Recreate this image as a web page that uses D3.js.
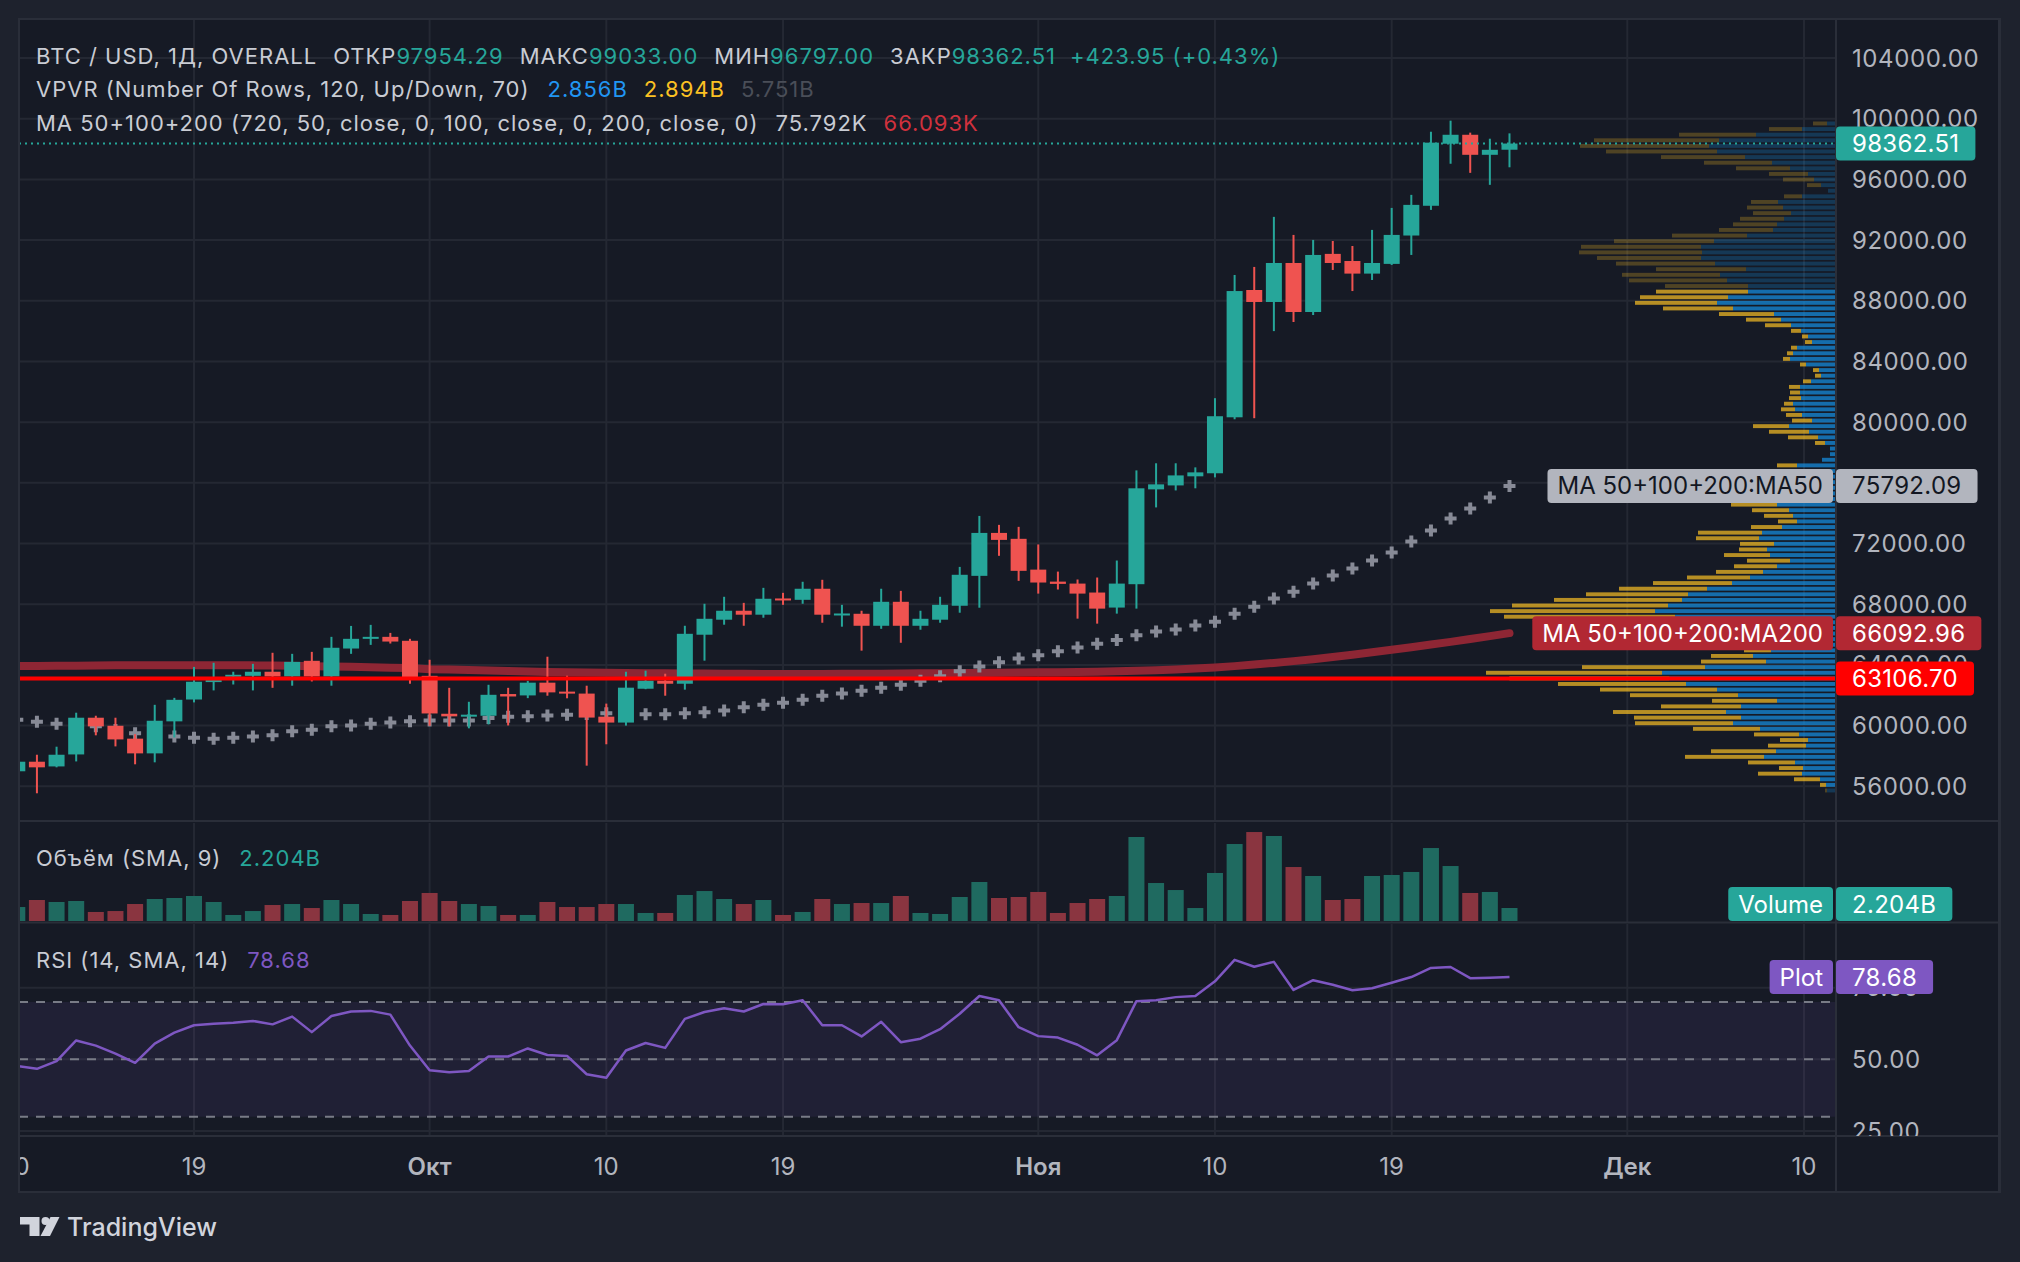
<!DOCTYPE html>
<html>
<head>
<meta charset="utf-8">
<script src="https://cdn.jsdelivr.net/npm/d3@7"></script>
<style>
  html, body { margin: 0; padding: 0; background: #1e222d; }
  svg { display: block; font-family: Inter, "Noto Sans", sans-serif; }
</style>
</head>
<body>
<svg id="chart" width="2020" height="1262"></svg>
<script>
// ---- data: BTC / USD daily, 10 Sep – 25 Nov 2024 ----
var firstDay = [2024, 8, 10]; // UTC y, m (0-based), d of the first candle

var open  = [56990,57620,57310,58100,60520,59990,59140,58170,60280,61720,62910,63240,63280,63550,63240,64270,63240,65080,65740,65850,65590,
             63280,60780,60610,60650,62080,61990,62830,62240,62110,60590,60200,62430,62960,62760,65990,66980,67570,67310,68380,68290,69020,67310,67370,66580,68160,66580,66980,67900,69870,72700,72310,
             70280,69490,69360,68770,67780,69320,75570,75830,76430,76630,80320,88710,87920,90490,87260,91090,90620,89790,90430,92300,94260,98350,98940,97620,97954.29];
var high  = [57900,58080,58610,60850,60650,60520,59440,61370,61830,63870,64140,63550,64070,64800,64730,64860,65850,66570,66640,66110,65720,
             64340,62490,61570,62690,62490,62950,64540,63290,62630,61450,63550,63620,63420,66580,68030,68490,68090,69080,68750,69480,69610,67960,67570,69020,68880,67570,68490,70460,73820,73230,73100,
             71940,70150,69630,69760,70880,76820,77290,77290,77020,81580,89700,90230,93530,92340,92010,91940,91610,92670,94120,94980,99140,99870,99080,98680,99033.00];
var low   = [56800,55540,57250,57640,59360,58630,57450,57580,59220,61530,62320,62710,62320,62490,62630,62910,62630,64730,65320,65410,62760,
             59990,59950,59820,60080,60010,61810,61970,61800,57360,58770,60000,62400,61970,62370,64280,66650,66580,67110,67960,68030,66780,66520,64940,66380,65460,66320,66780,67440,67770,71190,69540,
             68700,68970,67050,66720,67380,67710,74380,75500,75640,76360,80190,80260,86000,86600,87060,90030,88640,89370,90360,91020,93990,97030,96430,95640,96797.00];
var close = [57620,57250,58080,60520,59950,59090,58170,60320,61700,62890,63000,63350,63550,63240,64200,63240,65130,65720,65850,65540,63170,
             60800,60610,60720,62030,61920,62830,62190,62150,60530,60200,62500,62960,62760,66050,67040,67570,67310,68360,68290,69020,67310,67390,66580,68160,66580,67040,67960,69940,72700,72240,70200,
             69430,69340,68700,67710,69360,75640,75900,76490,76690,80390,88640,87920,90490,87260,91020,90490,89790,90490,92340,94320,98420,98940,97620,97950,98362.51];

// volume, billions
var volume = [2.37,3.56,3.22,3.39,1.53,1.69,2.88,3.73,3.90,4.24,3.22,1.02,1.69,2.71,2.88,2.20,3.56,2.88,1.19,1.02,3.39,
              4.75,3.39,2.88,2.54,1.02,1.02,3.22,2.37,2.37,2.88,2.88,1.36,1.36,4.41,5.08,3.73,2.88,3.56,1.02,1.53,3.73,2.88,3.05,3.05,4.24,1.36,1.19,4.07,6.61,3.90,4.07,
              4.92,1.36,3.05,3.73,4.24,14.24,6.44,5.25,2.20,8.14,13.05,15.08,14.41,9.15,7.63,3.56,3.73,7.63,7.80,8.31,12.37,9.32,4.75,4.92,2.204];

// MA 50 and MA 200 of close
var ma50  = [60390,60260,60120,60040,59950,59710,59490,59380,59290,59200,59140,59200,59290,59360,59620,59730,59950,60010,60120,60210,60280,
             60340,60340,60340,60500,60590,60610,60660,60720,60770,60810,60780,60750,60750,60810,60880,60990,61210,61380,61510,61710,61970,62110,62300,62500,62700,62960,63250,63580,63900,64170,64430,
             64630,64900,65150,65400,65650,65950,66210,66330,66590,66850,67380,67840,68370,68830,69360,69890,70350,70880,71410,72140,72860,73650,74310,75040,75792.09];
var ma200 = [63920,63930,63940,63950,63960,63970,63975,63980,63985,63985,63985,63980,63970,63960,63940,63920,63900,63875,63850,63820,63790,
             63720,63690,63660,63630,63600,63570,63540,63520,63500,63480,63465,63455,63445,63440,63430,63420,63410,63405,63400,63400,63405,63410,63415,63425,63435,63445,63455,63465,63475,63490,63500,
             63510,63520,63535,63555,63580,63610,63650,63700,63760,63830,63920,64020,64130,64250,64380,64520,64670,64830,65000,65170,65340,65520,65710,65900,66092.96];

// RSI 14
var rsi = [47.7,46.7,49.4,56.6,54.8,52.0,48.8,55.5,59.3,61.9,62.4,62.8,63.4,62.2,64.9,59.5,65.1,66.7,66.9,65.6,54.8,
           46.2,45.5,45.9,51.0,51.0,53.8,51.5,51.2,44.8,43.6,53.1,55.7,54.0,64.1,66.5,67.8,66.7,69.3,69.2,70.6,61.9,61.9,58.0,63.1,56.0,57.2,60.5,65.9,72.1,70.6,61.2,
           58.1,57.6,55.1,51.4,56.7,70.3,70.6,71.7,72.1,77.2,84.7,82.3,84.0,74.2,77.6,76.0,74.1,74.8,76.7,78.7,81.9,82.2,78.3,78.5,78.68];

// volume profile (visible range), 120 rows from the top price row down
var vpDown = [42,99,231,375,387,333,252,204,162,117,93,42,0,54,81,108,114,132,132,162,225,300,360,369,312,297,270,294,294,249,276,264,
              246,210,165,105,78,30,18,21,18,18,21,18,18,18,24,33,30,36,27,42,48,60,108,120,90,30,0,0,
              0,60,165,150,120,100,130,140,138,111,87,57,93,192,189,102,84,138,129,129,141,189,237,264,306,384,468,495,513,
              420,380,330,250,150,81,126,195,369,528,480,384,351,324,195,240,339,321,294,201,135,84,114,195,237,141,72,132,78,18,6];
var vpUp   = [27,102,240,351,381,357,273,192,138,84,66,45,24,102,174,159,135,156,177,189,267,366,405,402,405,363,270,348,327,264,264,324,
              357,309,186,165,135,105,84,72,117,129,138,90,51,45,75,108,108,105,129,123,102,72,141,81,54,33,18,18,
              42,117,225,200,190,170,180,180,177,141,129,117,162,222,231,186,207,198,138,177,219,258,312,387,444,462,504,543,483,
              470,440,400,330,260,195,249,210,393,522,500,450,357,294,177,285,330,285,309,228,111,84,90,180,216,123,99,102,48,30,27];
var vpRows = 120, vpValueArea = 0.70;

// axes
var priceTicks = d3.range(56000, 104001, 4000);
var rsiTicks = [25, 50, 75];
var rsiBands = [70, 50, 30];
var timeTicks = [[2024,8,10,"10"],[2024,8,19,"19"],[2024,9,1,"Окт"],[2024,9,10,"10"],[2024,9,19,"19"],
                 [2024,10,1,"Ноя"],[2024,10,10,"10"],[2024,10,19,"19"],[2024,11,1,"Дек"],[2024,11,10,"10"]];
var monthLabels = ["Окт", "Ноя", "Дек"];

// legends
var legendMain = [["BTC / USD, 1Д, OVERALL","lab",0],["ОТКР","lab",16],["97954.29","up",0],["МАКС","lab",16],["99033.00","up",0],
                  ["МИН","lab",16],["96797.00","up",0],["ЗАКР","lab",16],["98362.51","up",0],["+423.95 (+0.43%)","up",14]];
var legendVp = [["VPVR (Number Of Rows, 120, Up/Down, 70)","lab",0],["2.856B","vpu",18],["2.894B","vpd",16],["5.751B","dim",16]];
var legendMa = [["MA 50+100+200 (720, 50, close, 0, 100, close, 0, 200, close, 0)","lab",0],["75.792K","lab",17],["66.093K","ma200",16]];
var legendVol = [["Объём (SMA, 9)","lab",0],["2.204B","up",18]];
var legendRsi = [["RSI (14, SMA, 14)","lab",0],["78.68","rsi",18]];
var hLinePrice = 63106.70;

// ---- colours ----
var C = {
  bg: "#161a25", outer: "#1e222d", grid: "#242833", border: "#2a2e39",
  up: "#26a69a", down: "#ef5350", volUp: "#1f6a60", volDown: "#8a3540",
  lab: "#c9ccd4", axis: "#b2b5be", vpu: "#2196f3", vpd: "#fbc123", dim: "#4a4e58",
  ma200: "#d0313d", rsi: "#7e57c2", ma50: "#878a96", ma200line: "#8e2634"
};

// ---- layout ----
var L = 19, T = 19, R = 2000, B = 1192, PR = 1836;
var mainB = 821, volT = 823, volB = 921, rsiT = 924, rsiB = 1136;

var svg = d3.select("#chart");
svg.append("rect").attr("width", 2020).attr("height", 1262).attr("fill", C.outer);
svg.append("rect").attr("x", L).attr("y", T).attr("width", R - L).attr("height", B - T).attr("fill", C.bg);

var dates = close.map(function(d, i) { return new Date(Date.UTC(firstDay[0], firstDay[1], firstDay[2] + i)); });
var x = d3.scaleUtc()
  .domain([new Date(Date.UTC(2024, 8, 19)), new Date(Date.UTC(2024, 11, 10))])
  .range([194, 1804]);
var y = d3.scaleLinear().domain([56000, 104000]).range([786.3, 58]);
var yv = d3.scaleLinear().domain([0, 16.95]).range([volB, 821]);
var yr = d3.scaleLinear().domain([30, 70]).range([1116.7, 1002]);
var step = x(dates[1]) - x(dates[0]);
var bw = Math.round(step * 0.8);

var defs = svg.append("defs");
function clip(id, x0, y0, x1, y1) {
  defs.append("clipPath").attr("id", id).append("rect")
    .attr("x", x0).attr("y", y0).attr("width", x1 - x0).attr("height", y1 - y0);
  return "url(#" + id + ")";
}
var gMain = svg.append("g").attr("clip-path", clip("cm", L, T, PR, mainB));
var gVol = svg.append("g").attr("clip-path", clip("cv", L, volT, PR, volB + 1));
var gRsi = svg.append("g").attr("clip-path", clip("cr", L, rsiT, PR, rsiB));
var gTime = svg.append("g").attr("clip-path", clip("ct", L + 1, rsiB, PR, B));

// grid
var tickDates = timeTicks.map(function(t) { return new Date(Date.UTC(t[0], t[1], t[2])); });
[gMain, gVol, gRsi].forEach(function(g) {
  g.selectAll("line.vg").data(tickDates).enter().append("line")
    .attr("x1", function(d) { return x(d); }).attr("x2", function(d) { return x(d); })
    .attr("y1", T).attr("y2", rsiB).attr("stroke", C.grid).attr("stroke-width", 2);
});
gMain.selectAll("line.hg").data(priceTicks).enter().append("line")
  .attr("x1", L).attr("x2", PR).attr("y1", function(d) { return y(d); }).attr("y2", function(d) { return y(d); })
  .attr("stroke", C.grid).attr("stroke-width", 2);

// volume profile
var vpHi = d3.max(high), vpLo = d3.min(low), rowP = (vpHi - vpLo) / vpRows;
var vpTot = vpUp.map(function(u, i) { return u + vpDown[i]; });
var poc = vpTot.indexOf(d3.max(vpTot));
var vaLo = poc, vaHi = poc, target = d3.sum(vpTot) * vpValueArea, acc = vpTot[poc];
while (acc < target && (vaLo > 0 || vaHi < vpRows - 1)) {
  var above = (vaLo > 0 ? vpTot[vaLo - 1] : 0) + (vaLo > 1 ? vpTot[vaLo - 2] : 0);
  var below = (vaHi < vpRows - 1 ? vpTot[vaHi + 1] : 0) + (vaHi < vpRows - 2 ? vpTot[vaHi + 2] : 0);
  if (above >= below && vaLo > 0) vaLo = Math.max(0, vaLo - 2);
  else vaHi = Math.min(vpRows - 1, vaHi + 2);
  acc = d3.sum(vpTot.slice(vaLo, vaHi + 1));
}
var vw = d3.scaleLinear().domain([0, d3.max(vpTot)]).range([0, 350]);
var rows = vpTot.map(function(t, i) {
  var top = vpHi - i * rowP;
  return { i: i, up: vpUp[i], down: vpDown[i], y0: y(top), y1: y(top - rowP), va: i >= vaLo && i <= vaHi };
});
var gVp = gMain.append("g");
rows.forEach(function(r) {
  var h = (r.y1 - r.y0) * 0.7, yy = (r.y0 + r.y1) / 2 - h / 2;
  var a = r.va ? 0.7 : 0.25;
  gVp.append("rect").attr("x", PR - vw(r.up)).attr("y", yy).attr("width", vw(r.up)).attr("height", h)
    .attr("fill", "#1592e6").attr("fill-opacity", a);
  gVp.append("rect").attr("x", PR - vw(r.up) - vw(r.down)).attr("y", yy).attr("width", vw(r.down)).attr("height", h)
    .attr("fill", "#fbc123").attr("fill-opacity", a);
});

// MA 200
gMain.append("path").datum(ma200)
  .attr("d", d3.line().x(function(d, i) { return x(dates[i]); }).y(function(d) { return y(d); }))
  .attr("fill", "none").attr("stroke", C.ma200line).attr("stroke-width", 8).attr("stroke-linecap", "round");

// MA 50 crosses
gMain.append("path")
  .attr("d", ma50.map(function(d, i) {
    var cx = x(dates[i]), cy = y(d);
    return "M" + (cx - 6) + "," + cy + "H" + (cx + 6) + "M" + cx + "," + (cy - 6) + "V" + (cy + 6);
  }).join(""))
  .attr("stroke", C.ma50).attr("stroke-width", 4).attr("fill", "none");

// candles
var cd = close.map(function(c, i) { return { d: dates[i], o: open[i], h: high[i], l: low[i], c: c }; });
var cg = gMain.selectAll("g.c").data(cd).enter().append("g")
  .attr("fill", function(d) { return d.c >= d.o ? C.up : C.down; });
cg.append("rect").attr("x", function(d) { return x(d.d) - 1; }).attr("width", 2)
  .attr("y", function(d) { return y(d.h); }).attr("height", function(d) { return y(d.l) - y(d.h); });
cg.append("rect").attr("x", function(d) { return x(d.d) - bw / 2; }).attr("width", bw)
  .attr("y", function(d) { return y(Math.max(d.o, d.c)); })
  .attr("height", function(d) { return Math.max(2, Math.abs(y(d.o) - y(d.c))); });

// horizontal line and last price line
gMain.append("line").attr("x1", L).attr("x2", PR).attr("y1", y(hLinePrice)).attr("y2", y(hLinePrice))
  .attr("stroke", "#ff0000").attr("stroke-width", 4);
var lastC = close[close.length - 1];
gMain.append("line").attr("x1", L).attr("x2", PR).attr("y1", y(lastC)).attr("y2", y(lastC))
  .attr("stroke", C.up).attr("stroke-width", 2).attr("stroke-dasharray", "2,4");

// volume bars
gVol.selectAll("rect").data(volume).enter().append("rect")
  .attr("x", function(d, i) { return x(dates[i]) - bw / 2; }).attr("width", bw)
  .attr("y", function(d) { return yv(d); }).attr("height", function(d) { return volB - yv(d); })
  .attr("fill", function(d, i) { return close[i] >= open[i] ? C.volUp : C.volDown; });

// RSI
gRsi.selectAll("line.rg").data(rsiTicks).enter().append("line")
  .attr("x1", L).attr("x2", PR).attr("y1", function(d) { return yr(d); }).attr("y2", function(d) { return yr(d); })
  .attr("stroke", C.grid).attr("stroke-width", 2);
gRsi.append("rect").attr("x", L).attr("width", PR - L).attr("y", yr(70)).attr("height", yr(30) - yr(70))
  .attr("fill", C.rsi).attr("fill-opacity", 0.1);
gRsi.selectAll("line.rb").data(rsiBands).enter().append("line")
  .attr("x1", L).attr("x2", PR).attr("y1", function(d) { return yr(d); }).attr("y2", function(d) { return yr(d); })
  .attr("stroke", "#787b86").attr("stroke-width", 2).attr("stroke-dasharray", "9,8");
gRsi.append("path").datum(rsi)
  .attr("d", d3.line().x(function(d, i) { return x(dates[i]); }).y(function(d) { return yr(d); }))
  .attr("fill", "none").attr("stroke", C.rsi).attr("stroke-width", 2.5).attr("stroke-linejoin", "round");

// pane separators and frame
[[L, mainB, PR, mainB], [L, 922.5, PR, 922.5], [L, rsiB, R, rsiB], [R - 1, T, R - 1, B], [PR, T, PR, B]].forEach(function(s) {
  svg.append("line").attr("x1", s[0]).attr("y1", s[1]).attr("x2", s[2]).attr("y2", s[3])
    .attr("stroke", C.border).attr("stroke-width", 2);
});
svg.append("line").attr("x1", PR).attr("x2", R).attr("y1", mainB).attr("y2", mainB).attr("stroke", C.border).attr("stroke-width", 2);
svg.append("line").attr("x1", PR).attr("x2", R).attr("y1", 922.5).attr("y2", 922.5).attr("stroke", C.border).attr("stroke-width", 2);
svg.append("rect").attr("x", L).attr("y", T).attr("width", R - L).attr("height", B - T)
  .attr("fill", "none").attr("stroke", C.border).attr("stroke-width", 2);

// price axis labels
var fmt = d3.format(".2f");
var gAxis = svg.append("g").attr("font-size", 24).attr("letter-spacing", 0.6).attr("fill", C.axis);
gAxis.selectAll("text.p").data(priceTicks).enter().append("text")
  .attr("x", 1852).attr("y", function(d) { return y(d) + 8.5; }).text(fmt);
var gRAxis = svg.append("g").attr("clip-path", clip("cra", PR, rsiT, R, rsiB))
  .attr("font-size", 24).attr("letter-spacing", 0.6).attr("fill", C.axis);
gRAxis.selectAll("text").data(rsiTicks).enter().append("text")
  .attr("x", 1852).attr("y", function(d) { return yr(d) + 8.5; }).text(fmt);

// time axis labels
gTime.selectAll("text").data(timeTicks).enter().append("text")
  .attr("x", function(t) { return x(new Date(Date.UTC(t[0], t[1], t[2]))); }).attr("y", 1175)
  .attr("text-anchor", "middle").attr("font-size", 24).attr("fill", C.axis)
  .attr("font-weight", function(t) { return monthLabels.indexOf(t[3]) >= 0 ? 600 : 400; })
  .text(function(t) { return t[3]; });

// legends
function legend(items, x0, y0) {
  var t = svg.append("text").attr("x", x0).attr("y", y0).attr("font-size", 22).attr("letter-spacing", 1);
  items.forEach(function(it) {
    t.append("tspan").attr("dx", it[2] || 0).attr("fill", C[it[1]]).text(it[0]);
  });
}
legend(legendMain, 36, 64);
legend(legendVp, 36, 97);
legend(legendMa, 36, 131);
legend(legendVol, 36, 866);
legend(legendRsi, 36, 968);

// price tags on the scale
function tagValue(cy, txt, fill, color) {
  var g = svg.append("g");
  var r = g.append("rect").attr("x", PR).attr("y", cy - 17).attr("height", 34).attr("rx", 4).attr("fill", fill);
  var t = g.append("text").attr("x", 1852).attr("y", cy + 8.5).attr("font-size", 24)
    .attr("letter-spacing", 0.3).attr("fill", color).text(txt);
  r.attr("width", t.node().getComputedTextLength() + 32);
}
function tagName(cy, txt, fill, color) {
  var g = svg.append("g");
  var r = g.append("rect").attr("y", cy - 17).attr("height", 34).attr("rx", 4).attr("fill", fill);
  var t = g.append("text").attr("x", 1823).attr("y", cy + 8.5).attr("font-size", 24)
    .attr("text-anchor", "end").attr("fill", color).text(txt);
  var w = t.node().getComputedTextLength() + 20;
  r.attr("x", 1833 - w).attr("width", w);
}
tagValue(y(lastC), fmt(lastC), C.up, "#ffffff");
var m50 = ma50[ma50.length - 1], m200 = ma200[ma200.length - 1];
tagName(y(m50), "MA 50+100+200:MA50", "#b2b5be", "#131722");
tagValue(y(m50), fmt(m50), "#b2b5be", "#131722");
tagName(y(m200), "MA 50+100+200:MA200", "#b22833", "#ffffff");
tagValue(y(m200), fmt(m200), "#b22833", "#ffffff");
tagValue(y(hLinePrice), fmt(hLinePrice), "#ff0000", "#ffffff");
var volTagY = Math.min(yv(volume[volume.length - 1]), volB - 17);
tagName(volTagY, "Volume", C.up, "#ffffff");
tagValue(volTagY, d3.format(".3f")(volume[volume.length - 1]) + "B", C.up, "#ffffff");
tagName(yr(rsi[rsi.length - 1]), "Plot", C.rsi, "#ffffff");
tagValue(yr(rsi[rsi.length - 1]), fmt(rsi[rsi.length - 1]), C.rsi, "#ffffff");

// TradingView mark
var logo = svg.append("g").attr("fill", "#d1d4dc");
logo.append("path").attr("d", "M20,1217H39.5V1236H29.5V1224.5H20Z");
logo.append("circle").attr("cx", 45.5).attr("cy", 1221).attr("r", 4);
logo.append("path").attr("d", "M50.5,1217H59.5L50,1236H40.5Z");
logo.append("text").attr("x", 67).attr("y", 1236).attr("font-size", 25).attr("font-weight", 500).text("TradingView");
</script>
</body>
</html>
